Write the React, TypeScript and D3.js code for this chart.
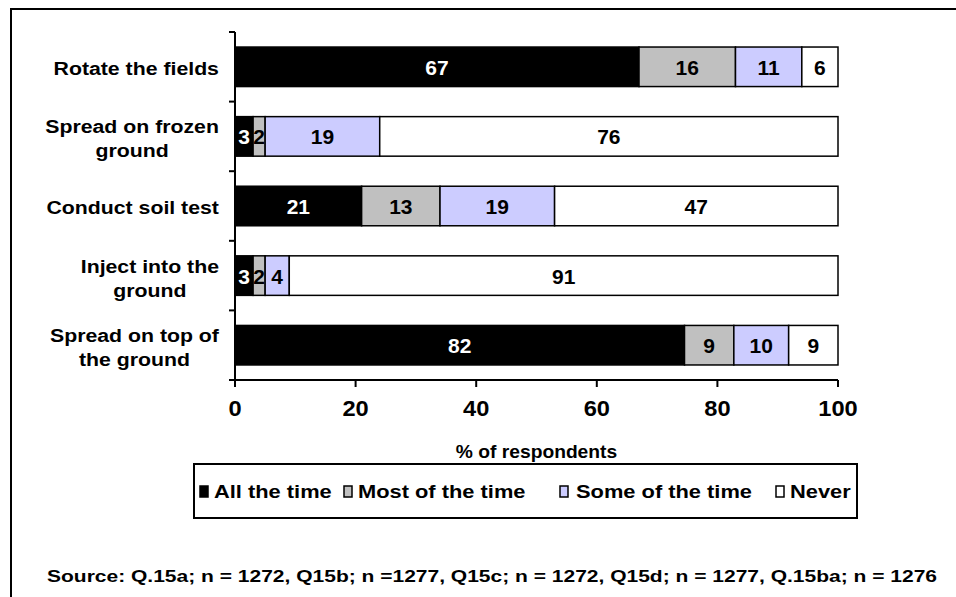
import React from "react";
import * as d3 from "d3";

const categories: string[][] = [
  ["Rotate the fields"],
  ["Spread on frozen", "ground"],
  ["Conduct soil test"],
  ["Inject into the", "ground"],
  ["Spread on top of", "the ground"],
];
const seriesNames = ["All the time", "Most of the time", "Some of the time", "Never"];
const allTheTime = [67, 3, 21, 3, 82];
const mostOfTheTime = [16, 2, 13, 2, 9];
const someOfTheTime = [11, 19, 19, 4, 10];
const never = [6, 76, 47, 91, 9];
const seriesColors = ["#000000", "#C0C0C0", "#CCCCFF", "#FFFFFF"];
const labelColors = ["#FFFFFF", "#000000", "#000000", "#000000"];
const xTicks = [0, 20, 40, 60, 80, 100];
const axisTitle = "% of respondents";
const sourceText =
  "Source:  Q.15a; n = 1272, Q15b; n =1277, Q15c; n = 1272, Q15d; n = 1277, Q.15ba; n = 1276";

const FONT = '"Liberation Sans", Arial, Helvetica, sans-serif';

let ctx: CanvasRenderingContext2D | null = null;
function measure(text: string, size: number): number {
  if (!ctx) ctx = document.createElement("canvas").getContext("2d");
  if (!ctx) return text.length * size * 0.55;
  ctx.font = `bold ${size}px "Liberation Sans", Arial, sans-serif`;
  return ctx.measureText(text).width;
}

function T(props: {
  x: number;
  y: number;
  sx?: number;
  size: number;
  anchor?: string;
  fill?: string;
  children: React.ReactNode;
  textLength?: number;
}) {
  const { x, y, sx = 1, size, anchor = "start", fill = "#000", children, textLength } = props;
  return (
    <text
      transform={`translate(${x},${y}) scale(${sx},1)`}
      textAnchor={anchor}
      fontSize={size}
      fontWeight="bold"
      fontFamily={FONT}
      fill={fill}
      textLength={textLength}
      lengthAdjust={textLength ? "spacingAndGlyphs" : undefined}
    >
      {children}
    </text>
  );
}

export default function App() {
  const W = 956;
  const H = 597;
  const keys = categories.map((c) => c.join(" "));
  const series = [allTheTime, mostOfTheTime, someOfTheTime, never];

  const x = d3.scaleLinear().domain([0, 100]).range([235, 838]);
  const y = d3.scaleBand<string>().domain(keys).range([32, 380]).paddingInner(0.432).paddingOuter(0.216);

  const rows = keys.map((k, i) => {
    const vals = series.map((s) => s[i]);
    const total = d3.sum(vals);
    let cum = 0;
    return vals.map((v, j) => {
      const x0 = (cum / total) * 100;
      cum += v;
      const x1 = (cum / total) * 100;
      return { key: k, j, v, x0, x1 };
    });
  });

  const catSize = 19;
  const catSx = 1.12;
  const catRight = 219;

  const legendMarkX = [200, 344, 560, 776];
  const legendTextX = [214, 358, 576, 790];

  return (
    <svg width={W} height={H} style={{ position: "absolute", left: 0, top: 0, background: "#fff" }}>
      <rect x={0} y={0} width={W} height={H} fill="#fff" />
      {/* frame */}
      <rect x={11} y={9} width={W + 20} height={H + 20} fill="none" stroke="#000" strokeWidth={2} />

      {/* bars */}
      {rows.map((segs) =>
        segs.map((s) => (
          <rect
            key={s.key + s.j}
            x={x(s.x0)}
            y={y(s.key)!}
            width={x(s.x1) - x(s.x0)}
            height={y.bandwidth()}
            fill={seriesColors[s.j]}
            stroke="#000"
            strokeWidth={1.5}
          />
        ))
      )}
      {/* value labels */}
      {rows.map((segs) =>
        segs.map((s) => (
          <T
            key={"l" + s.key + s.j}
            x={(x(s.x0) + x(s.x1)) / 2}
            y={y(s.key)! + y.bandwidth() / 2 + 8}
            size={20}
            sx={1.05}
            anchor="middle"
            fill={labelColors[s.j]}
          >
            {s.v}
          </T>
        ))
      )}

      {/* y axis */}
      <line x1={235} x2={235} y1={32} y2={380} stroke="#000" strokeWidth={2} />
      {[32, ...keys.map((k) => y(k)! - (y.step() * y.paddingInner()) / 2 + y.step())].map((t, i) => (
        <line key={"yt" + i} x1={229} x2={235} y1={t} y2={t} stroke="#000" strokeWidth={2} />
      ))}
      {categories.map((lines, i) => {
        const c = y(keys[i])! + y.bandwidth() / 2;
        const maxW = d3.max(lines, (l) => measure(l, catSize) * catSx) ?? 0;
        const cx = catRight - maxW / 2;
        const base = lines.length === 1 ? c + 8 : c - 3;
        return lines.map((l, k) => (
          <T key={"c" + i + k} x={cx} y={base + k * 24} size={catSize} sx={catSx} anchor="middle">
            {l}
          </T>
        ));
      })}

      {/* x axis */}
      <line x1={235} x2={838} y1={380} y2={380} stroke="#000" strokeWidth={2} />
      {xTicks.map((t) => (
        <g key={"xt" + t}>
          <line x1={x(t)} x2={x(t)} y1={380} y2={387} stroke="#000" strokeWidth={2} />
          <T x={x(t)} y={416} size={21.5} sx={1.1} anchor="middle">
            {t}
          </T>
        </g>
      ))}
      <T x={x(50)} y={458} size={17.5} sx={1.1} anchor="middle">
        {axisTitle}
      </T>

      {/* legend */}
      <rect x={194} y={464} width={663} height={54} fill="#fff" stroke="#000" strokeWidth={2} />
      {seriesNames.map((n, i) => (
        <g key={"lg" + i}>
          <rect x={legendMarkX[i]} y={486} width={8} height={11} fill={seriesColors[i]} stroke="#000" strokeWidth={1.5} />
          <T x={legendTextX[i]} y={498} size={19} sx={1.15}>
            {n}
          </T>
        </g>
      ))}

      {/* source */}
      <T x={47} y={582} size={16.5} textLength={890}>
        {sourceText}
      </T>
    </svg>
  );
}
